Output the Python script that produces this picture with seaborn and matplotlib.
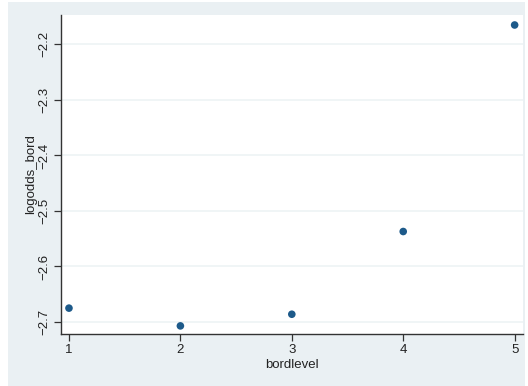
import numpy as np
import pandas as pd
import seaborn as sns
import matplotlib.pyplot as plt
from matplotlib.patches import Rectangle

# data
bordlevel = [1, 2, 3, 4, 5]
logodds_bord = [-2.675, -2.707, -2.686, -2.537, -2.165]
yticks = [-2.7, -2.6, -2.5, -2.4, -2.3, -2.2]
xticks = [1, 2, 3, 4, 5]

df = pd.DataFrame({"bordlevel": bordlevel, "logodds_bord": logodds_bord})

sns.set_style("white")
plt.rcParams['font.family'] = ['Liberation Sans', 'DejaVu Sans']

W, H = 528, 386
fig = plt.figure(figsize=(W / 100, H / 100), dpi=100, facecolor="white")
# stata-like graph region
fig.patches.append(Rectangle((8 / W, 0), (525 - 8) / W, (H - 2) / H,
                             transform=fig.transFigure, facecolor="#eaf0f3",
                             edgecolor="none", zorder=0))

ax = fig.add_axes([60.5 / W, 1 - 334 / H, (523 - 60.5) / W, (334 - 15) / H])
ax.set_zorder(2)
ax.set_facecolor("white")

sns.scatterplot(data=df, x="bordlevel", y="logodds_bord", ax=ax,
                color="#1d5a8a", s=30, edgecolor="none", zorder=3)

ax.set_xlim(0.924, 5.075)
ax.set_ylim(-2.7216, -2.147)
ax.set_xticks(xticks)
ax.set_xticklabels([str(v) for v in xticks])
ax.set_yticks(yticks)
ax.set_yticklabels([str(v).replace("-", "\u2212") for v in yticks], rotation=90, va="center")

ax.grid(axis="y", color="#edf3f5", linewidth=1.2)
ax.grid(axis="x", visible=False)
for side in ["top", "right"]:
    ax.spines[side].set_visible(False)
for side in ["left", "bottom"]:
    ax.spines[side].set_color("#333333")
    ax.spines[side].set_linewidth(1.0)

ax.tick_params(axis="both", direction="out", length=5, width=0.9, color="#333333",
               labelsize=9.5, labelcolor="#222222", left=True, bottom=True)
ax.tick_params(axis="y", pad=2)
ax.tick_params(axis="x", pad=2)

ax.set_xlabel("bordlevel", fontsize=9.5, color="#222222", labelpad=2)
ax.set_ylabel("logodds_bord", fontsize=9.5, color="#222222", labelpad=1)

fig.savefig("out.png", dpi=100, facecolor="white")
